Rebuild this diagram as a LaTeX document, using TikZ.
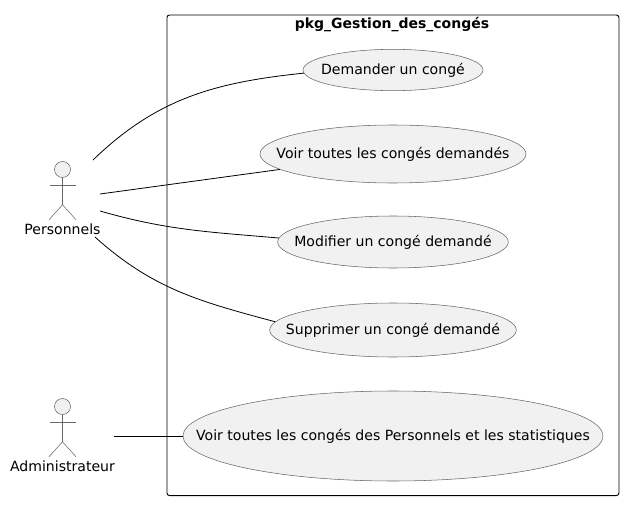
\documentclass[tikz,border=0pt]{standalone}
\usepackage{fontspec}
\setmainfont{DejaVu Sans}
\usetikzlibrary{shapes, shapes.geometric, calc}
\definecolor{ucfill}{HTML}{F1F1F1}
\definecolor{ucdraw}{HTML}{666666}
\tikzstyle{usecase} = [ellipse, draw=ucdraw, fill=ucfill, line width=0.4pt, inner sep=0pt,
    font=\fontsize{10.55pt}{12pt}\selectfont]
\tikzstyle{head} = [circle, draw=ucdraw, fill=ucfill, line width=0.4pt, inner sep=0pt, minimum size=12pt]
\tikzstyle{limb} = [draw=ucdraw, line width=0.4pt]
\tikzstyle{actorname} = [font=\fontsize{10.55pt}{12pt}\selectfont, inner sep=0pt]
\tikzstyle{line} = [draw, line width=0.6pt]

\begin{document}
\begin{tikzpicture}[x=0.75pt, y=-0.75pt]
    \useasboundingbox (0,0) rectangle (640,514);
    % Package
    \node [draw, rounded corners=2pt, line width=0.7pt, minimum width=339pt, minimum height=360.5pt,
        inner sep=0pt, anchor=north west] (pkg) at (166.5,14.5) {};
    \node [font=\fontsize{10.5pt}{12pt}\selectfont\bfseries, inner sep=0pt] (pkgtitle) at (392,25) {pkg\_Gestion\_des\_congés};
    % Use cases
    \node [usecase, minimum width=135pt, minimum height=31pt] (demander) at (393,70) {\clap{Demander un congé}};
    \node [usecase, minimum width=199.5pt, minimum height=43.5pt] (voir) at (393,154) {\clap{Voir toutes les congés demandés}};
    \node [usecase, minimum width=173pt, minimum height=39pt] (modifier) at (393,242) {\clap{Modifier un congé demandé}};
    \node [usecase, minimum width=185pt, minimum height=40.5pt] (supprimer) at (393,330) {\clap{Supprimer un congé demandé}};
    \node [usecase, minimum width=315pt, minimum height=67.5pt] (stats) at (393,436) {\clap{Voir toutes les congés des Personnels et les statistiques}};
    % Actors
    \node [head] (personnels) at (62.5,169.5) {};
    \node [head] (admin) at (62.5,406.5) {};
    \foreach \who in {personnels, admin} {
        \path[limb] (\who.south) -- ++(0,27) coordinate (\who hip);
        \path[limb] ($(\who.south)+(-13,7.5)$) -- ++(26,0);
        \path[limb] ($(\who hip)+(-13.5,15)$) -- (\who hip) -- ++(13.5,15);
    }
    \node [actorname] (personnelsname) at (62.5,229) {Personnels};
    \node [actorname] (adminname) at (62.5,466) {Administrateur};
    % Free ends
    \coordinate (p1) at (93,160);
    \coordinate (p2) at (100,194);
    \coordinate (p3) at (100,211);
    \coordinate (p4) at (95,237);
    \coordinate (a1) at (114,436);
    % Edges
    \path[line] (p1) to [out=44, in=186] (demander.182);
    \path[line] (p2) -- (voir);
    \path[line] (p3) to [out=-16, in=175] (modifier.178);
    \path[line] (p4) to [out=-42, in=165] (supprimer.176);
    \path[line] (a1) -- (stats.west);
\end{tikzpicture}
\end{document}
